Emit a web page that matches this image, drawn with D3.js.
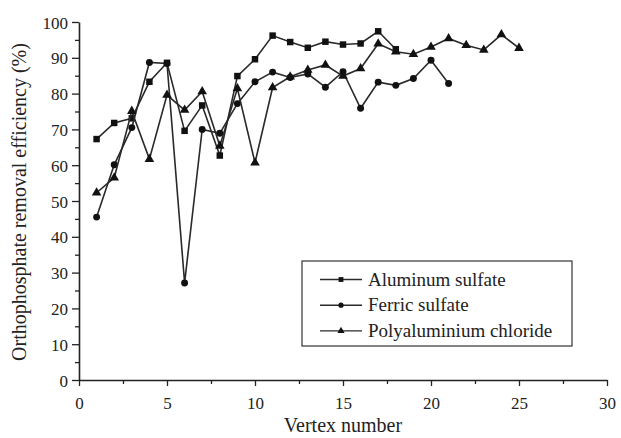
<!DOCTYPE html>
<meta charset="utf-8">
<script src="https://d3js.org/d3.v7.min.js"></script>
<style>
  body { margin: 0; background: #fff; }
</style>
<div id="chart"></div>
<script>
// values (%)
var vertexAl = [1,2,3,4,5,6,7,8,9,10,11,12,13,14,15,16,17,18];
var aluminumSulfate = [67.3,71.8,73.1,83.3,88.6,69.6,76.7,62.7,84.9,89.6,96.2,94.4,92.8,94.5,93.7,94.0,97.4,92.4];

var vertexFe = [1,2,3,4,5,6,7,8,9,10,11,12,13,14,15,16,17,18,19,20,21];
var ferricSulfate = [45.5,60.1,70.5,88.7,88.4,27.1,70.0,68.9,77.2,83.3,86.0,84.5,85.5,81.8,86.1,75.9,83.2,82.3,84.2,89.3,82.8];

var vertexPac = [1,2,3,4,5,6,7,8,9,10,11,12,13,14,15,16,17,18,19,20,21,22,23,24,25];
var pac = [52.3,56.5,75.1,61.7,79.6,75.4,80.6,65.4,81.4,60.7,81.7,84.7,86.6,88.0,84.9,87.0,93.9,91.7,91.0,93.0,95.4,93.5,92.2,96.5,92.7];

var seriesNames = ["Aluminum sulfate", "Ferric sulfate", "Polyaluminium chloride"];
var xTicks = [0,5,10,15,20,25,30];
var yTicks = [0,10,20,30,40,50,60,70,80,90,100];

var FONT = "'Liberation Serif', 'DejaVu Serif', 'Times New Roman', Times, serif";

var width = 621, height = 438;
var margin = {left: 79, right: 14, top: 22, bottom: 58};

var svg = d3.select("#chart").append("svg")
    .attr("width", width)
    .attr("height", height);

var x = d3.scaleLinear().domain([0, 30]).range([margin.left, width - margin.right]);
var y = d3.scaleLinear().domain([0, 100]).range([height - margin.bottom, margin.top]);

// minor ticks first
svg.append("g")
    .attr("transform", "translate(0," + y(0) + ")")
    .call(d3.axisBottom(x).tickValues(d3.range(2.5, 30, 5)).tickSize(4).tickFormat(""))
    .call(function(g) { g.select(".domain").remove(); });
svg.append("g")
    .attr("transform", "translate(" + x(0) + ",0)")
    .call(d3.axisLeft(y).tickValues(d3.range(5, 100, 10)).tickSize(4).tickFormat(""))
    .call(function(g) { g.select(".domain").remove(); });

var xAxis = svg.append("g")
    .attr("transform", "translate(0," + y(0) + ")")
    .call(d3.axisBottom(x).tickValues(xTicks).tickSize(6).tickSizeOuter(0).tickPadding(11));
var yAxis = svg.append("g")
    .attr("transform", "translate(" + x(0) + ",0)")
    .call(d3.axisLeft(y).tickValues(yTicks).tickSize(7).tickSizeOuter(0).tickPadding(4));

svg.selectAll(".domain").attr("stroke", "#222").attr("stroke-width", 1.6);
svg.selectAll(".tick line").attr("stroke", "#222").attr("stroke-width", 1.3);
svg.selectAll(".tick text").style("font-family", FONT).style("font-size", "17px").attr("fill", "#222");
yAxis.selectAll("text").attr("dy", "0.36em");

svg.append("text")
    .style("font-family", FONT).style("font-size", "20px").attr("fill", "#222")
    .attr("text-anchor", "middle")
    .attr("x", (x(0) + x(30)) / 2)
    .attr("y", 432)
    .text("Vertex number");

svg.append("text")
    .style("font-family", FONT).style("font-size", "20px").attr("fill", "#222")
    .attr("text-anchor", "middle")
    .attr("transform", "translate(26," + (y(50) + 1) + ") rotate(-90)")
    .text("Orthophosphate removal efficiency (%)");

var line = d3.line().x(function(d) { return x(d[0]); }).y(function(d) { return y(d[1]); });

var series = [
  {name: seriesNames[0], data: d3.zip(vertexAl, aluminumSulfate), shape: d3.symbolSquare, size: 42},
  {name: seriesNames[1], data: d3.zip(vertexFe, ferricSulfate), shape: d3.symbolCircle, size: 38},
  {name: seriesNames[2], data: d3.zip(vertexPac, pac), shape: d3.symbolTriangle, size: 40}
];

series.forEach(function(s) {
  svg.append("path")
      .datum(s.data)
      .attr("fill", "none")
      .attr("stroke", "#2a2a2a")
      .attr("stroke-width", 1.6)
      .attr("d", line);
  svg.append("g").selectAll("path")
      .data(s.data)
      .join("path")
      .attr("transform", function(d) { return "translate(" + x(d[0]) + "," + y(d[1]) + ")"; })
      .attr("d", d3.symbol().type(s.shape).size(s.size))
      .attr("fill", "#111");
});

// legend
var legend = svg.append("g").attr("transform", "translate(302,261)");
legend.append("rect")
    .attr("width", 270).attr("height", 85)
    .attr("fill", "#fff").attr("stroke", "#333").attr("stroke-width", 1.2);

var item = legend.selectAll(".item")
    .data(series)
    .join("g")
    .attr("transform", function(d, i) { return "translate(0," + (18.5 + i * 25.7) + ")"; });
item.append("line")
    .attr("x1", 18).attr("x2", 60)
    .attr("stroke", "#2a2a2a").attr("stroke-width", 1.4);
item.append("path")
    .attr("transform", "translate(39,0)")
    .attr("d", function(d) { return d3.symbol().type(d.shape).size(d.size * 0.55)(); })
    .attr("fill", "#111");
item.append("text")
    .style("font-family", FONT).style("font-size", "19px").attr("fill", "#222")
    .attr("x", 66).attr("dy", "0.33em")
    .text(function(d) { return d.name; });
</script>
